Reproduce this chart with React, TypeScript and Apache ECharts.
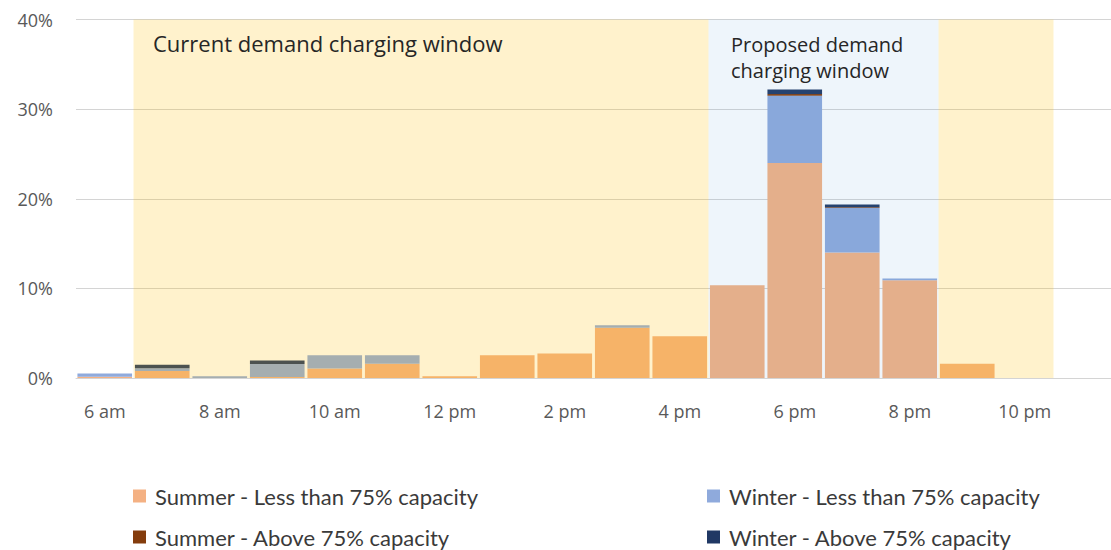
import React, { useEffect, useRef } from "react";
import * as echarts from "echarts";

// Hour categories (x axis)
const categories = [
  "6 am", "7 am", "8 am", "9 am", "10 am", "11 am", "12 pm", "1 pm", "2 pm",
  "3 pm", "4 pm", "5 pm", "6 pm", "7 pm", "8 pm", "9 pm", "10 pm", "11 pm",
];

// Series values (% of sessions)
const summerLess = [0.15, 0.78, 0, 0.1, 1.05, 1.6, 0.2, 2.53, 2.72, 5.62, 4.65, 10.35, 24.0, 14.0, 10.9, 1.6, 0, 0];
const winterLess = [0.35, 0.3, 0.2, 1.45, 1.48, 0.93, 0, 0, 0, 0.26, 0, 0, 7.48, 4.98, 0.19, 0, 0, 0];
const summerAbove = [0, 0, 0, 0, 0, 0, 0, 0, 0, 0, 0, 0, 0.2, 0.08, 0, 0, 0, 0];
const winterAbove = [0, 0.41, 0, 0.4, 0, 0, 0, 0, 0, 0, 0, 0, 0.5, 0.3, 0, 0, 0, 0];

const seriesNames = [
  "Summer - Less than 75% capacity",
  "Winter - Less than 75% capacity",
  "Summer - Above 75% capacity",
  "Winter - Above 75% capacity",
];

// Y ticks
const yTicks = [0, 10, 20, 30, 40];

// Charging windows (category ranges, start inclusive / end exclusive)
const currentWindowStart = "7 am";
const currentWindowEnd = "11 pm";
const proposedWindowStart = "5 pm";
const proposedWindowEnd = "9 pm";

const currentLabel = "Current demand charging window";
const proposedLabel = "Proposed demand\ncharging window";

export default function App() {
  const ref = useRef<HTMLDivElement>(null);

  useEffect(() => {
    if (!ref.current) return;
    const chart = echarts.init(ref.current, undefined, { renderer: "svg" });

    const cs = categories.indexOf(currentWindowStart);
    const ce = categories.indexOf(currentWindowEnd);
    const ps = categories.indexOf(proposedWindowStart);
    const pe = categories.indexOf(proposedWindowEnd);

    const yellow = "rgba(255,192,0,0.2)";
    const blue = "rgba(91,155,213,0.1)";

    const colors = ["#F4B183", "#8FAADC", "#843C0C", "#203864"];
    const values = [summerLess, winterLess, summerAbove, winterAbove];

    const axisFont = { fontFamily: "Open Sans", fontSize: 18, color: "#595959" };
    const legendBase = {
      top: 484,
      height: 120,
      orient: "vertical",
      selectedMode: false,
      icon: "rect",
      itemWidth: 13,
      itemHeight: 13,
      itemGap: 17,
      padding: 0,
      textStyle: { fontFamily: "Lato", fontSize: 22, lineHeight: 24, color: "#3a3a3a", padding: [0, 0, 0, 4] },
    };

    chart.setOption({
      animation: false,
      grid: { left: 76, right: 0, top: 19.5, bottom: 172 },
      xAxis: [
        {
          type: "category",
          data: categories,
          axisTick: { show: false },
          axisLine: { lineStyle: { color: "#d4d4d4", width: 1 } },
          axisLabel: { ...axisFont, interval: 1, margin: 24 },
        },
        { type: "value", min: 0, max: categories.length, show: false },
      ],
      yAxis: {
        type: "value",
        min: yTicks[0],
        max: yTicks[yTicks.length - 1],
        interval: yTicks[1] - yTicks[0],
        axisLine: { show: false },
        axisTick: { show: false },
        axisLabel: { ...axisFont, formatter: "{value}%", margin: 23 },
        splitLine: { lineStyle: { color: "#d4d4d4", width: 1 } },
      },
      legend: [
        { ...legendBase, left: 133, data: [seriesNames[0], seriesNames[2]] },
        { ...legendBase, left: 707, data: [seriesNames[1], seriesNames[3]] },
      ],
      series: [
        ...values.map((v, i) => ({
          name: seriesNames[i],
          type: "bar",
          stack: "total",
          barCategoryGap: "5%",
          itemStyle: { color: colors[i] },
          data: v,
          z: 2,
        })),
        {
          type: "line",
          xAxisIndex: 1,
          data: [],
          z: 5,
          silent: true,
          markArea: {
            silent: true,
            z: 5,
            label: { show: false },
            data: [
              [{ xAxis: cs, itemStyle: { color: yellow } }, { xAxis: ps }],
              [{ xAxis: pe, itemStyle: { color: yellow } }, { xAxis: ce }],
              [{ xAxis: ps, itemStyle: { color: blue } }, { xAxis: pe }],
            ],
          },
        },
      ],
      graphic: [
        {
          type: "text",
          left: 153,
          top: 32,
          z: 100,
          style: { text: currentLabel, fontFamily: "Open Sans", fontSize: 22, fill: "#262626" },
        },
        {
          type: "text",
          left: 731,
          top: 31,
          z: 100,
          style: { text: proposedLabel, fontFamily: "Open Sans", fontSize: 20, lineHeight: 26, fill: "#262626" },
        },
      ],
    });

    return () => chart.dispose();
  }, []);

  return (
    <div
      ref={ref}
      style={{ position: "absolute", left: 0, top: 0, width: 1111, height: 550 }}
    />
  );
}
